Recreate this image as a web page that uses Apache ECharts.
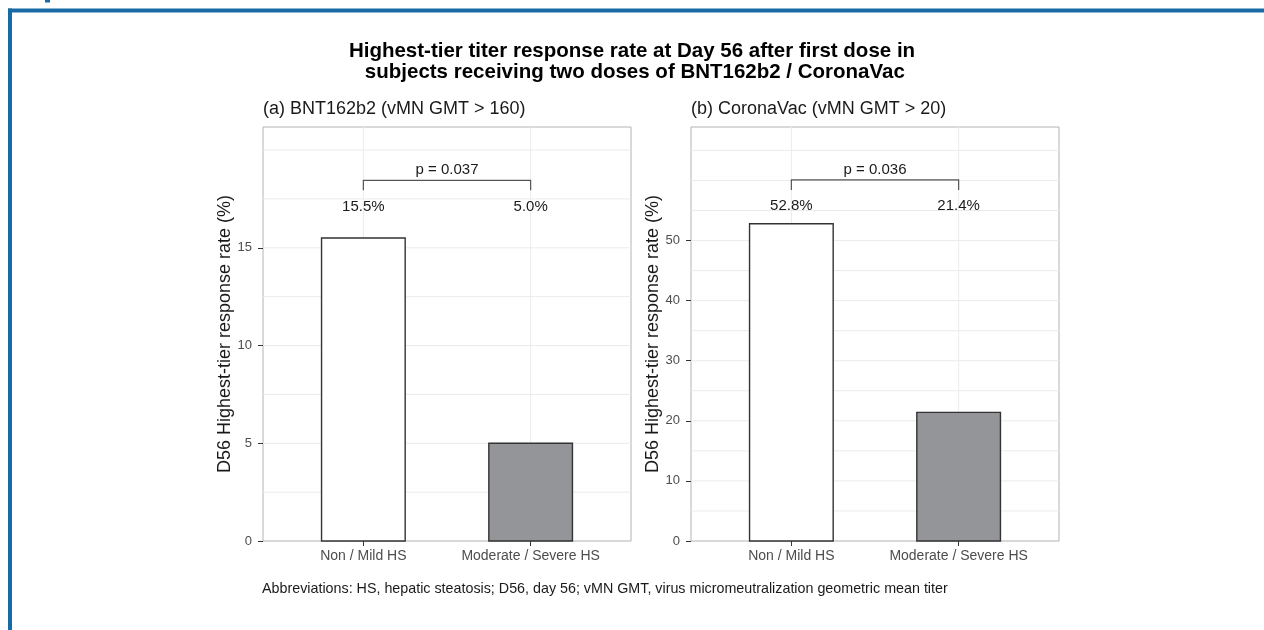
<!DOCTYPE html>
<html lang="en">
  <head>
    <meta charset="UTF-8" />
    <title>Highest-tier titer response rate</title>
    <script src="https://cdn.jsdelivr.net/npm/echarts@6/dist/echarts.min.js"></script>
    <style>
      html, body { margin: 0; padding: 0; background: #fff; }
      #main { width: 1264px; height: 630px; }
    </style>
  </head>
  <body>
    <div id="main"></div>
    <script type="text/javascript">
      // data
      const categories = ["Non / Mild HS", "Moderate / Severe HS"];
      const bntRates = [15.5, 5.0];
      const coronaRates = [52.8, 21.4];
      const pLabels = ["p = 0.037", "p = 0.036"];
      const panelTitles = ["(a) BNT162b2 (vMN GMT > 160)", "(b) CoronaVac (vMN GMT > 20)"];
      const yMaxes = [21.18, 68.9];
      const yTickLabels = [[0, 5, 10, 15], [0, 10, 20, 30, 40, 50]];
      const yGridValues = [
        [2.5, 5, 7.5, 10, 12.5, 15, 17.5, 20],
        [5, 10, 15, 20, 25, 30, 35, 40, 45, 50, 55, 60, 65],
      ];
      // annotation heights (data units) for bracket, value labels, p labels
      const bracketY = [18.45, 60.1];
      const valueLabelY = [17.12, 55.7];
      const pLabelY = [18.98, 61.7];

      const FONT = "Liberation Sans, Arial, Helvetica, sans-serif";
      const barFill = ["#ffffff", "#939598"];
      const gridColor = "#ebebeb";

      var myChart = echarts.init(document.getElementById("main"));

      function barSeries(idx, values) {
        return {
          type: "custom",
          xAxisIndex: idx,
          yAxisIndex: idx,
          z: 3,
          data: values.map((v, i) => [i + 1, v]),
          renderItem: function (params, api) {
            const x = api.value(0), y = api.value(1);
            const p0 = api.coord([x - 0.25, 0]);
            const p1 = api.coord([x + 0.25, y]);
            return {
              type: "rect",
              shape: { x: p0[0], y: p1[1], width: p1[0] - p0[0], height: p0[1] - p1[1] },
              style: { fill: barFill[params.dataIndex], stroke: "#333333", lineWidth: 1.4 },
            };
          },
        };
      }

      // grid lines: vertical at categories, horizontal at every half step
      function gridSeries(idx) {
        const items = categories.map((c, i) => [i + 1, 0, 0]);
        yGridValues[idx].forEach((v) => items.push([0, v, 1]));
        return {
          type: "custom",
          xAxisIndex: idx,
          yAxisIndex: idx,
          z: 1,
          silent: true,
          data: items,
          renderItem: function (params, api) {
            const horiz = api.value(2) === 1;
            let a, b;
            if (horiz) {
              a = api.coord([0.4, api.value(1)]);
              b = api.coord([2.6, api.value(1)]);
            } else {
              a = api.coord([api.value(0), 0]);
              b = api.coord([api.value(0), yMaxes[idx]]);
            }
            return {
              type: "line",
              shape: { x1: a[0], y1: a[1], x2: b[0], y2: b[1] },
              style: { stroke: gridColor, lineWidth: 1 },
            };
          },
        };
      }

      // bracket + p value + percentage labels
      function annotSeries(idx, values) {
        return {
          type: "custom",
          xAxisIndex: idx,
          yAxisIndex: idx,
          z: 4,
          silent: true,
          data: [[1.5, bracketY[idx]]],
          renderItem: function (params, api) {
            const left = api.coord([1, bracketY[idx]]);
            const right = api.coord([2, bracketY[idx]]);
            const tip = 10;
            const children = [
              {
                type: "polyline",
                shape: { points: [[left[0], left[1] + tip], left, right, [right[0], right[1] + tip]] },
                style: { stroke: "#555555", lineWidth: 1.2, fill: null },
              },
            ];
            const pp = api.coord([1.5, pLabelY[idx]]);
            children.push({
              type: "text",
              x: pp[0],
              y: pp[1],
              style: { text: pLabels[idx], align: "center", verticalAlign: "middle", fontSize: 15, fontFamily: FONT, fill: "#1a1a1a" },
            });
            values.forEach((v, i) => {
              const q = api.coord([i + 1, valueLabelY[idx]]);
              children.push({
                type: "text",
                x: q[0],
                y: q[1],
                style: { text: v.toFixed(1) + "%", align: "center", verticalAlign: "middle", fontSize: 15, fontFamily: FONT, fill: "#1a1a1a" },
              });
            });
            return { type: "group", children: children };
          },
        };
      }

      function makeXAxis(idx) {
        return {
          type: "value",
          gridIndex: idx,
          min: 0.4,
          max: 2.6,
          axisLine: { show: false },
          splitLine: { show: false },
          axisTick: { show: true, customValues: [1, 2], length: 5, lineStyle: { color: "#333333" } },
          axisLabel: {
            customValues: [1, 2],
            formatter: (v) => categories[Math.round(v) - 1],
            fontSize: 14,
            fontFamily: FONT,
            color: "#4d4d4d",
            margin: 8,
          },
        };
      }

      function makeYAxis(idx) {
        return {
          type: "value",
          gridIndex: idx,
          min: 0,
          max: yMaxes[idx],
          name: "D56 Highest-tier response rate (%)",
          nameLocation: "middle",
          nameGap: 28,
          nameTextStyle: { fontSize: 18, fontFamily: FONT, color: "#1a1a1a" },
          axisLine: { show: false },
          axisTick: { show: true, customValues: yTickLabels[idx], length: 5, lineStyle: { color: "#333333" } },
          axisLabel: {
            customValues: yTickLabels[idx],
            fontSize: 13,
            fontFamily: FONT,
            color: "#4d4d4d",
            margin: 11,
          },
          splitLine: { show: false },
        };
      }

      var option = {
        animation: false,
        backgroundColor: "#ffffff",
        title: [
          {
            text: "Highest-tier titer response rate at Day 56 after first dose in\n subjects receiving two doses of BNT162b2 / CoronaVac",
            left: "center",
            top: 36,
            textStyle: { fontSize: 20.5, fontWeight: "bold", fontFamily: FONT, color: "#000000", lineHeight: 21 },
          },
          {
            text: panelTitles[0],
            left: 258,
            top: 99,
            padding: [0, 5],
            textStyle: { fontSize: 18, fontWeight: "normal", fontFamily: FONT, color: "#1a1a1a", lineHeight: 20 },
          },
          {
            text: panelTitles[1],
            left: 686,
            top: 99,
            padding: [0, 5],
            textStyle: { fontSize: 18, fontWeight: "normal", fontFamily: FONT, color: "#1a1a1a", lineHeight: 20 },
          },
          {
            text: "Abbreviations: HS, hepatic steatosis; D56, day 56; vMN GMT, virus micromeutralization geometric mean titer",
            left: 257,
            top: 580,
            padding: [0, 5],
            textStyle: { fontSize: 14.3, fontWeight: "normal", fontFamily: FONT, color: "#1a1a1a", lineHeight: 18 },
          },
        ],
        graphic: [
          { type: "rect", shape: { x: 8, y: 8.5, width: 1256, height: 4 }, style: { fill: "#176aa6" }, silent: true },
          { type: "rect", shape: { x: 8, y: 8.5, width: 4, height: 622 }, style: { fill: "#176aa6" }, silent: true },
          { type: "rect", shape: { x: 45, y: 0, width: 5, height: 2.5 }, style: { fill: "#176aa6" }, silent: true },
        ],
        grid: [
          { left: 263, top: 127, width: 368, height: 414, show: true, borderColor: "#b3b3b3", borderWidth: 1, backgroundColor: "transparent" },
          { left: 691, top: 127, width: 368, height: 414, show: true, borderColor: "#b3b3b3", borderWidth: 1, backgroundColor: "transparent" },
        ],
        xAxis: [makeXAxis(0), makeXAxis(1)],
        yAxis: [makeYAxis(0), makeYAxis(1)],
        series: [
          gridSeries(0),
          gridSeries(1),
          barSeries(0, bntRates),
          barSeries(1, coronaRates),
          annotSeries(0, bntRates),
          annotSeries(1, coronaRates),
        ],
      };
      myChart.setOption(option);

      window.onresize = function () {
        myChart.resize();
      };
    </script>
  </body>
</html>
